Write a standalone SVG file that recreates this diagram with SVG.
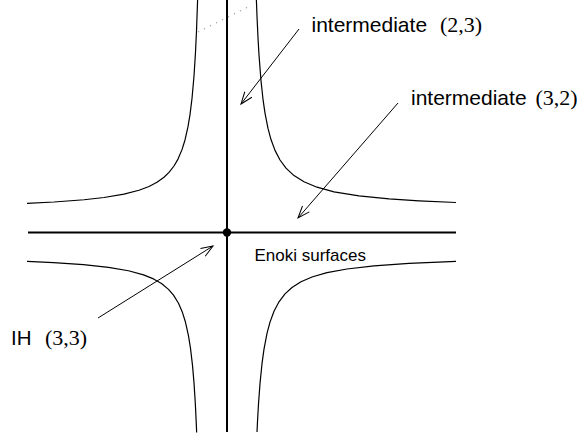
<svg xmlns="http://www.w3.org/2000/svg" width="579" height="435" viewBox="0 0 579 435">
<style>
.axis{stroke:#000;stroke-width:2;fill:none}
.curve{stroke:#000;stroke-width:1.2;fill:none;stroke-linejoin:round}
.arrow{stroke:#000;stroke-width:1;fill:none;marker-end:url(#open)}
.lbl{font-family:"Liberation Sans",Arial,sans-serif;fill:#000}
.math{font-family:"Liberation Serif","Times New Roman",serif;fill:#000}
</style>
<defs>
<marker id="open" markerUnits="userSpaceOnUse" markerWidth="16" markerHeight="12" viewBox="-14 -6 16 12" refX="0" refY="0" orient="auto" overflow="visible">
<path d="M -12 -4.5 L 0 0 L -12 4.5" fill="none" stroke="#000" stroke-width="1"/>
</marker>
</defs>
<rect width="579" height="435" fill="#fff"/>
<g id="curves">
<polyline class="curve" points="27,203.37 54,202 84,199.75 104,197.5 124,194.13 139,190.23 149,186.45 157,182.28 164,177.25 169,172.43 174,166 178,159.08 182,149.64 185,139.95 188,126.63 190,114.57 192,98.5 194,76 195.5,52.2 196.5,31 197.6,0.1 197.7,-3.3"/>
<polyline class="curve" points="256.3,-2.3 257,16.25 258,37.8 259,55 261,80.8 263,99.3 265,113.1 268,128.4 271,139.55 275,150.4 280,160 286,168.1 294,175.6 304,181.8 317,187.2 334,191.8 359,195.9 389,198.93 419,200.88 456,202.51"/>
<polyline class="curve" points="27,261.41 53.5,262.63 83.5,264.67 108.5,267.34 128.5,270.77 143.5,274.83 153.5,278.9 161.5,283.55 168.5,289.36 173.5,295.17 178.5,303.3 182.5,312.6 185.5,322.28 188.5,335.83 190.5,348.35 192.5,365.4 194,382.9 195.3,403.3 196.3,423.9 196.65,432.6"/>
<polyline class="curve" points="257,432 257.5,421.5 258.5,404 260,383.6 262,363.7 264,349.2 267,333.4 270,322.1 274,311.3 279,301.8 285,293.9 292,287.5 301,281.8 312,277 327,272.7 347,269 374,265.86 409,263.4 456,261.36"/>
</g>
<g id="axes">
<line class="axis" x1="227" y1="0" x2="227" y2="432"/>
<line class="axis" x1="28" y1="232.5" x2="456" y2="232.5"/>
<line x1="198" y1="32" x2="252" y2="5" stroke="#999" stroke-width="1.2" stroke-dasharray="1.2 5.5"/>
</g>
<g id="ih-point">
<circle cx="227" cy="232.5" r="4.2" fill="#000"/>
</g>
<g id="connectors">
<line class="arrow" x1="299" y1="29" x2="241" y2="104"/>
<line class="arrow" x1="398" y1="103" x2="298" y2="218"/>
<line class="arrow" x1="98" y1="318" x2="213" y2="246"/>
</g>
<g id="label-23">
<text class="lbl" x="311.5" y="31.5" font-size="21">intermediate</text>
<text class="math" x="440" y="31.5" font-size="22">(2,3)</text>
</g>
<g id="label-32">
<text class="lbl" x="411" y="105" font-size="21">intermediate</text>
<text class="math" x="535.5" y="105" font-size="22">(3,2)</text>
</g>
<g id="label-enoki">
<text class="lbl" x="254.5" y="261" font-size="17">Enoki surfaces</text>
</g>
<g id="label-ih">
<text class="lbl" x="11" y="345" font-size="20.5">IH</text>
<text class="math" x="45" y="345" font-size="22">(3,3)</text>
</g>
</svg>
